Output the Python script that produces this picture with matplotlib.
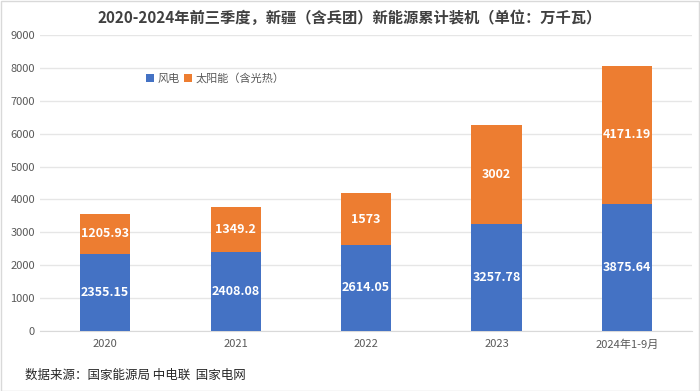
import matplotlib
matplotlib.use("Agg")
import matplotlib.pyplot as plt
from matplotlib.patches import Rectangle

plt.rcParams['font.family'] = ['Noto Sans CJK SC', 'DejaVu Sans']

categories = ["2020", "2021", "2022", "2023", "2024年1-9月"]
wind = [2355.15, 2408.08, 2614.05, 3257.78, 3875.64]
solar = [1205.93, 1349.2, 1573, 3002, 4171.19]
wind_labels = ["2355.15", "2408.08", "2614.05", "3257.78", "3875.64"]
solar_labels = ["1205.93", "1349.2", "1573", "3002", "4171.19"]
yticks = [0, 1000, 2000, 3000, 4000, 5000, 6000, 7000, 8000, 9000]

blue = "#4472C4"
orange = "#ED7D31"

fig = plt.figure(figsize=(7, 3.91), dpi=100)
ax = fig.add_axes([0.057, 0.1535, 0.932, 0.757])

x = range(len(categories))
w = 0.385
b1 = ax.bar(x, wind, width=w, color=blue, label="风电", zorder=3)
b2 = ax.bar(x, solar, width=w, bottom=wind, color=orange, label="太阳能（含光热）", zorder=3)

for i in x:
    ax.text(i, wind[i] / 2, wind_labels[i], ha='center', va='center', color='white',
            fontsize=9, fontweight='bold', zorder=4)
    ax.text(i, wind[i] + solar[i] / 2, solar_labels[i], ha='center', va='center', color='white',
            fontsize=9, fontweight='bold', zorder=4)

ax.set_ylim(0, 9000)
ax.set_xlim(-0.5, len(categories) - 0.5)
ax.set_yticks(yticks)
ax.set_yticklabels([str(t) for t in yticks], fontsize=8, color='#595959')
ax.set_xticks(list(x))
ax.set_xticklabels(categories, fontsize=8, color='#595959')
ax.tick_params(axis='both', length=0)
ax.tick_params(axis='x', pad=6)
ax.grid(axis='y', color='#E6E6E6', linewidth=1, zorder=0)
for s in ['top', 'right', 'left']:
    ax.spines[s].set_visible(False)
ax.spines['bottom'].set_color('#D9D9D9')

leg = ax.legend(loc='upper left', bbox_to_anchor=(0.148, 0.905), ncol=2, frameon=False,
                fontsize=8, handlelength=0.7, handleheight=0.7, handletextpad=0.3,
                columnspacing=0.4, labelcolor='#595959')

fig.text(0.5, 0.955, "2020-2024年前三季度，新疆（含兵团）新能源累计装机（单位：万千瓦）",
         ha='center', va='center', fontsize=11, fontweight='bold', color='#404040')
fig.text(0.036, 0.04, "数据来源：国家能源局 中电联  国家电网", ha='left', va='center',
         fontsize=9, color='#262626')

fig.patches.append(Rectangle((0.001, 0.001), 0.997, 0.997, transform=fig.transFigure,
                             fill=False, edgecolor='#D9D9D9', linewidth=1))

fig.savefig("out.png", dpi=100)
